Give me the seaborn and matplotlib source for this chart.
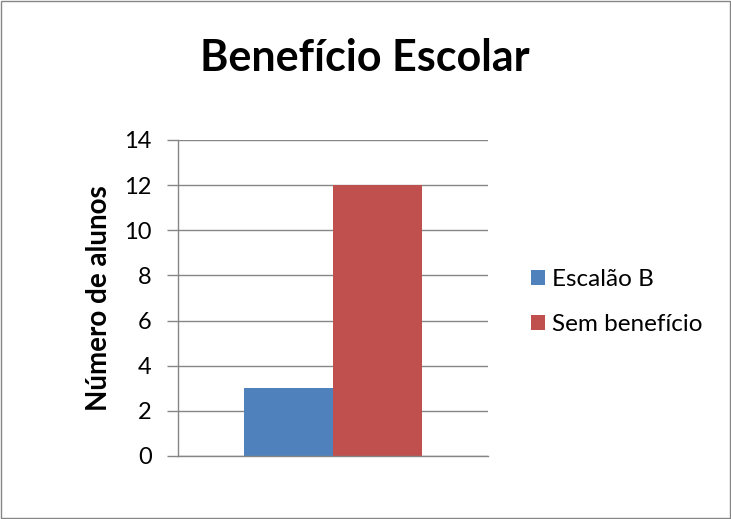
import matplotlib
matplotlib.use("Agg")
import matplotlib.pyplot as plt
import seaborn as sns
import pandas as pd
from matplotlib.patches import Patch, Rectangle

categories = ["Benefício"]
series = ["Escalão B", "Sem benefício"]
values = [3, 12]
colors = ["#4F81BD", "#C0504D"]
yticks = [0, 2, 4, 6, 8, 10, 12, 14]

df = pd.DataFrame({"cat": categories * len(series), "serie": series, "val": values})

sns.set_theme(style="white")
plt.rcParams["font.family"] = ["Lato", "DejaVu Sans"]
plt.rcParams["text.color"] = "black"

fig = plt.figure(figsize=(7.31, 5.19), dpi=100)
fig.patch.set_facecolor("white")
fig.add_artist(Rectangle((0.002, 0.002), 0.996, 0.996, transform=fig.transFigure,
                         fill=False, edgecolor="#868686", linewidth=1.0))

ax = fig.add_axes([0.2435, 0.1214, 0.4241, 0.609])
sns.barplot(data=df, x="cat", y="val", hue="serie", palette=colors,
            width=0.574, saturation=1, ax=ax, legend=False)
for p in ax.patches:
    p.set_edgecolor("none")

ax.set_ylim(0, 14)
ax.set_xlim(-0.5, 0.5)
ax.set_yticks(yticks)
ax.set_yticklabels([str(t) for t in yticks], fontsize=17, color="black")
ax.set_xticks([])
ax.set_xlabel("")
ax.set_ylabel("Número de alunos", fontsize=20, fontweight="bold", labelpad=8.5,
              color="black")
ax.yaxis.grid(True, color="#868686", linewidth=1.0)
ax.set_axisbelow(True)
for s in ["top", "right"]:
    ax.spines[s].set_visible(False)
for s in ["left", "bottom"]:
    ax.spines[s].set_color("#868686")
    ax.spines[s].set_linewidth(1.0)
ax.tick_params(axis="y", which="both", left=True, length=8, width=1.0,
               color="#868686", pad=11, labelcolor="black")

fig.text(0.4993, 0.889, "Benefício Escolar", ha="center", va="center",
         fontsize=31, fontweight="bold", color="black")

handles = [Patch(facecolor=c, edgecolor="none") for c in colors]
leg = fig.legend(handles, series, loc="center left", bbox_to_anchor=(0.7264, 0.418),
                 frameon=False, fontsize=17.5, handlelength=0.58, handleheight=0.58,
                 handletextpad=0.3, labelspacing=0.97, borderpad=0, borderaxespad=0)
for t in leg.get_texts():
    t.set_color("black")

fig.savefig("out.png", dpi=100)
